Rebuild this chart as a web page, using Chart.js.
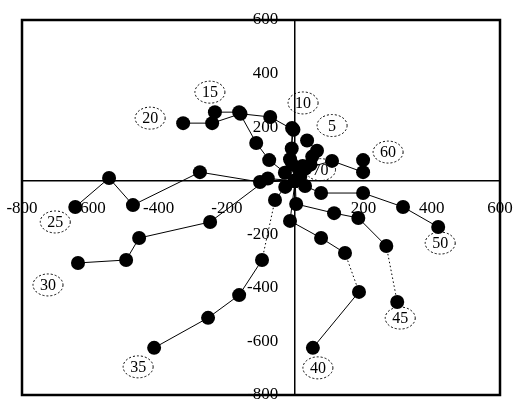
<!DOCTYPE html>
<html>
<head>
<meta charset="utf-8">
<script src="https://cdn.jsdelivr.net/npm/chart.js@4.4.0/dist/chart.umd.min.js"></script>
<style>
  html, body { margin: 0; padding: 0; background: #fff; }
  #wrap { width: 515px; height: 403px; }
</style>
</head>
<body>
<div id="wrap"><canvas id="c"></canvas></div>
<script>
// series names (the circled numbers) and their points
const seriesNames = ['5', '10', '15', '20', '25', '30', '35', '40', '45', '50', '60', '70']

const s5x = [0, 22, 50, 64, 35]
const s5y = [0, 55, 90, 112, 150]
const s10x = [0, -8, -10, -9]
const s10y = [0, 60, 120, 197]
const s15x = [0, -30, -76, -114, -164, -235]
const s15y = [0, 30, 77, 141, 256, 256]
const s20x = [0, -15, -5, -73, -160, -243, -328]
const s20y = [0, 80, 190, 238, 250, 215, 215]
const s25x = [0, -103, -279, -475, -545, -644]
const s25y = [0, -5, 32, -91, 10, -98]
const s30x = [0, -80, -249, -457, -495, -636]
const s30y = [0, 8, -154, -214, -296, -307]
const s35x = [0, -29, -59, -97, -164, -255, -413]
const s35y = [0, -23, -72, -296, -427, -512, -624]
const s40x = [0, -15, 76, 146, 187, 52]
const s40y = [0, -150, -214, -270, -415, -624]
const s45x = [0, 3, 114, 185, 267, 299]
const s45y = [0, -87, -121, -139, -244, -453]
const s50x = [0, 29, 76, 199, 316, 419]
const s50y = [0, -20, -46, -46, -98, -173]
const s60x = [0, 14, 108, 199, 199]
const s60y = [0, 40, 74, 32, 77]
const s70x = [0, 15, 30, 45]
const s70y = [0, 15, 45, 60]

const seriesX = [s5x, s10x, s15x, s20x, s25x, s30x, s35x, s40x, s45x, s50x, s60x, s70x]
const seriesY = [s5y, s10y, s15y, s20y, s25y, s30y, s35y, s40y, s45y, s50y, s60y, s70y]

const xMin = -800
const xMax = 600
const yMin = -800
const yMax = 600
const tickStep = 200

// where each circled name sits relative to the last point (pixels)
const labelOffsets = [
  [25, -15], [11, -25], [-5, -20], [-33, -5], [-20, 15], [-30, 22],
  [-16, 19], [5, 20], [3, 16], [2, 16], [25, -8], [10, 5]
]
// segments that print faint / dotted in the original (series -> start index)
const dottedFrom = { 35: 2, 40: 3, 45: 4 }

const tickFont = { family: 'Liberation Serif', size: 17 }

const datasets = seriesNames.map((name, i) => ({
  label: name,
  data: seriesX[i].map((x, j) => ({ x: x, y: seriesY[i][j] })),
  showLine: true,
  borderColor: '#000',
  borderWidth: 1,
  backgroundColor: '#000',
  pointRadius: 7,
  pointHoverRadius: 7,
  pointBorderWidth: 0,
  segment: {
    borderDash: (ctx) => (dottedFrom[name] === ctx.p0DataIndex ? [1.5, 2.5] : undefined)
  }
}))

// let the layout padding alone decide the plot box
function noEdgePadding (scale) {
  scale.paddingLeft = 0
  scale.paddingRight = 0
  scale.paddingTop = 0
  scale.paddingBottom = 0
}

const decorations = {
  id: 'decorations',
  beforeDatasetsDraw (chart) {
    const ctx = chart.ctx
    chart.data.datasets.forEach((ds, i) => {
      const pts = chart.getDatasetMeta(i).data
      const last = pts[pts.length - 1]
      const cx = last.x + labelOffsets[i][0]
      const cy = last.y + labelOffsets[i][1]
      ctx.save()
      ctx.strokeStyle = '#000'
      ctx.lineWidth = 1
      ctx.setLineDash([2, 2])
      ctx.beginPath()
      ctx.ellipse(cx, cy, 15, 11, 0, 0, Math.PI * 2)
      ctx.stroke()
      ctx.setLineDash([])
      ctx.fillStyle = '#000'
      ctx.font = '16px "Liberation Serif"'
      ctx.textAlign = 'center'
      ctx.textBaseline = 'middle'
      ctx.fillText(ds.label, cx, cy + 1)
      ctx.restore()
    })
  },
  afterDraw (chart) {
    const ctx = chart.ctx
    const a = chart.chartArea
    ctx.save()
    ctx.strokeStyle = '#000'
    ctx.lineWidth = 2.5
    ctx.strokeRect(a.left, a.top, a.right - a.left, a.bottom - a.top)
    ctx.restore()
  }
}

new Chart(document.getElementById('c').getContext('2d'), {
  type: 'scatter',
  data: { datasets: datasets },
  options: {
    responsive: true,
    maintainAspectRatio: false,
    animation: false,
    layout: { padding: { left: 22, right: 15, top: 20, bottom: 8 } },
    scales: {
      x: {
        type: 'linear',
        min: xMin,
        max: xMax,
        position: { y: 0 },
        grid: { display: false },
        border: { display: true, color: '#000', width: 1.5 },
        afterFit: noEdgePadding,
        ticks: {
          stepSize: tickStep,
          color: '#000',
          font: tickFont,
          padding: 10,
          maxRotation: 0,
          callback: (v) => (v === 0 ? '' : v)
        }
      },
      y: {
        type: 'linear',
        min: yMin,
        max: yMax,
        position: { x: 0 },
        grid: { display: false },
        border: { display: true, color: '#000', width: 1.5 },
        afterFit: noEdgePadding,
        ticks: {
          stepSize: tickStep,
          color: '#000',
          font: tickFont,
          callback: (v) => (v === 0 ? '' : v + '    ')
        }
      }
    },
    plugins: {
      legend: { display: false },
      tooltip: { enabled: false }
    }
  },
  plugins: [decorations]
})
</script>
</body>
</html>
